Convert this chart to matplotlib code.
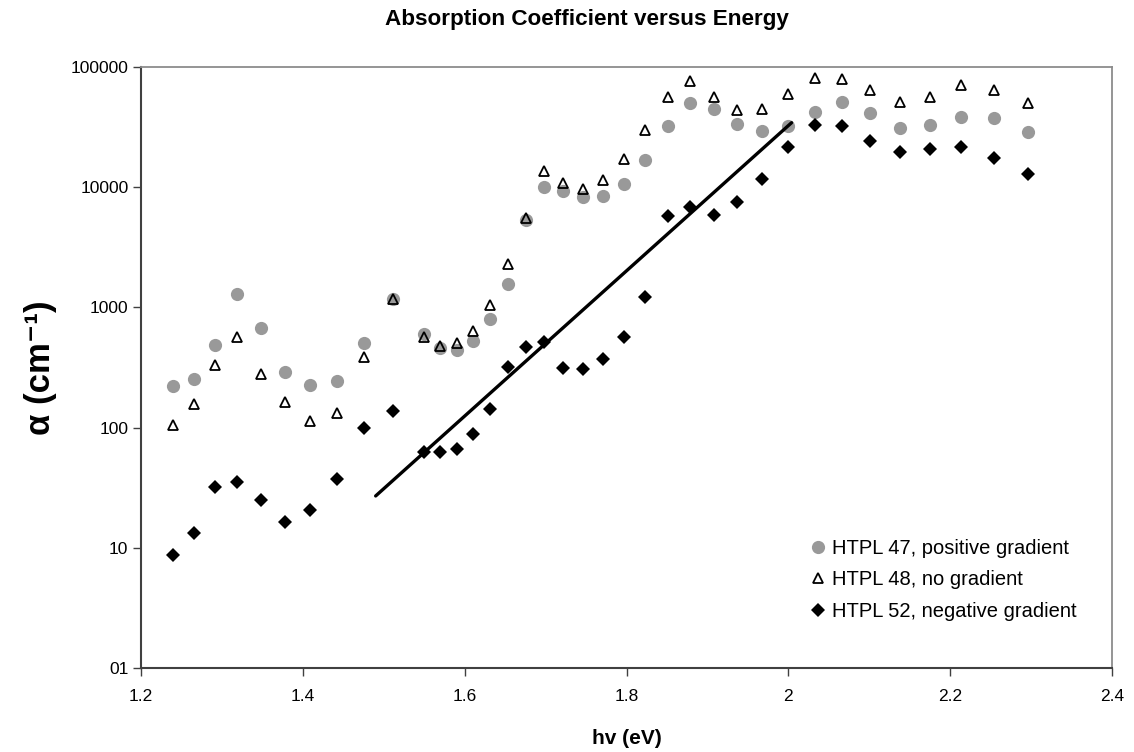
import matplotlib
matplotlib.use("Agg")
import matplotlib.pyplot as plt
from matplotlib.ticker import FixedLocator, FixedFormatter, NullLocator

plt.rcParams['font.family'] = ['Liberation Sans', 'DejaVu Sans']

# photon energy (eV)
energia = [1.240, 1.265, 1.292, 1.319, 1.348, 1.378, 1.409, 1.442, 1.476, 1.512,
           1.550, 1.569, 1.590, 1.610, 1.631, 1.653, 1.676, 1.698, 1.722, 1.746,
           1.771, 1.797, 1.823, 1.851, 1.879, 1.908, 1.937, 1.968, 2.000, 2.033,
           2.066, 2.101, 2.138, 2.175, 2.214, 2.254, 2.296]

# absorption coefficient (cm^-1)
htpl47 = [222, 254, 487, 1285, 670, 288, 226, 243, 503, 1175,
          601, 457, 442, 529, 800, 1575, 5335, 10040, 9350, 8240,
          8500, 10630, 16940, 32300, 50500, 45000, 33400, 29500, 32300, 42200,
          51400, 41200, 31100, 32900, 38600, 37900, 28600]
htpl48 = [106, 156, 332, 564, 279, 163, 113.5, 131.5, 385, 1175,
          570, 477, 508, 636, 1047, 2284, 5510, 13560, 10840, 9660,
          11480, 17170, 29900, 56600, 76500, 56600, 43900, 45000, 59600, 81500,
          79000, 64000, 50900, 56300, 70400, 64400, 50100]
htpl52 = [8.7, 13.4, 32.2, 35.3, 25, 16.3, 20.5, 37.2, 99.8, 137,
          63, 63, 67, 88, 142, 318, 471, 513, 313, 305,
          370, 564, 1213, 5760, 6880, 5830, 7480, 11640, 21600, 33100,
          32500, 24400, 19700, 20700, 21500, 17600, 12800]

# exponential trend line end points
ajuste_x = [1.49, 2.004]
ajuste_y = [27, 34400]

x_ticks = [1.2, 1.4, 1.6, 1.8, 2.0, 2.2, 2.4]
x_labels = ["1.2", "1.4", "1.6", "1.8", "2", "2.2", "2.4"]
y_ticks = [1, 10, 100, 1000, 10000, 100000]
y_labels = ["01", "10", "100", "1000", "10000", "100000"]

W, H = 1134, 752
fig = plt.figure(figsize=(W / 100, H / 100), dpi=100)
ax = fig.add_axes([141 / W, 1 - 668 / H, (1112 - 141) / W, (668 - 67) / H])

ax.plot(energia, htpl47, linestyle="none", marker="o", markersize=9.5,
        color="#999999", markeredgewidth=0, label="HTPL 47, positive gradient", zorder=3)
ax.plot(energia, htpl48, linestyle="none", marker="^", markersize=7.5,
        markerfacecolor="none", markeredgecolor="black", markeredgewidth=1.3,
        label="HTPL 48, no gradient", zorder=4)
ax.plot(ajuste_x, ajuste_y, color="black", linewidth=2.4, zorder=4.5,
        solid_capstyle="round")
ax.plot(energia, htpl52, linestyle="none", marker="D", markersize=7,
        color="black", markeredgewidth=0, label="HTPL 52, negative gradient", zorder=5)

ax.set_yscale("log")
ax.set_xlim(1.2, 2.4)
ax.set_ylim(1, 100000)
ax.xaxis.set_major_locator(FixedLocator(x_ticks))
ax.xaxis.set_major_formatter(FixedFormatter(x_labels))
ax.yaxis.set_major_locator(FixedLocator(y_ticks))
ax.yaxis.set_major_formatter(FixedFormatter(y_labels))
ax.yaxis.set_minor_locator(NullLocator())
ax.xaxis.set_minor_locator(NullLocator())
ax.tick_params(axis="both", labelsize=12.5, direction="out", length=6,
               width=1, color="#404040")
ax.tick_params(axis="x", pad=9)
ax.tick_params(axis="y", pad=3)

for lado in ["top", "right"]:
    ax.spines[lado].set_color("#8c8c8c")
    ax.spines[lado].set_linewidth(1.3)
for lado in ["left", "bottom"]:
    ax.spines[lado].set_color("#404040")
    ax.spines[lado].set_linewidth(1.5)

fig.text(587 / W, 1 - 19 / H, "Absorption Coefficient versus Energy",
         ha="center", va="center", fontsize=16.2, fontweight="bold")
ax.set_xlabel("hv (eV)", fontsize=15, fontweight="bold", labelpad=18)
ax.set_ylabel("α (cm⁻¹)", fontsize=25, fontweight="bold")
ax.yaxis.set_label_coords((57 - 141) / 971, 0.5)

leg = ax.legend(loc="upper left", bbox_to_anchor=(808 / W, 1 - 539 / H),
                bbox_transform=fig.transFigure, frameon=False, fontsize=14.5,
                handlelength=1.0, handletextpad=0.2, labelspacing=0.62,
                borderpad=0, borderaxespad=0)

fig.savefig("out.png", dpi=100)
